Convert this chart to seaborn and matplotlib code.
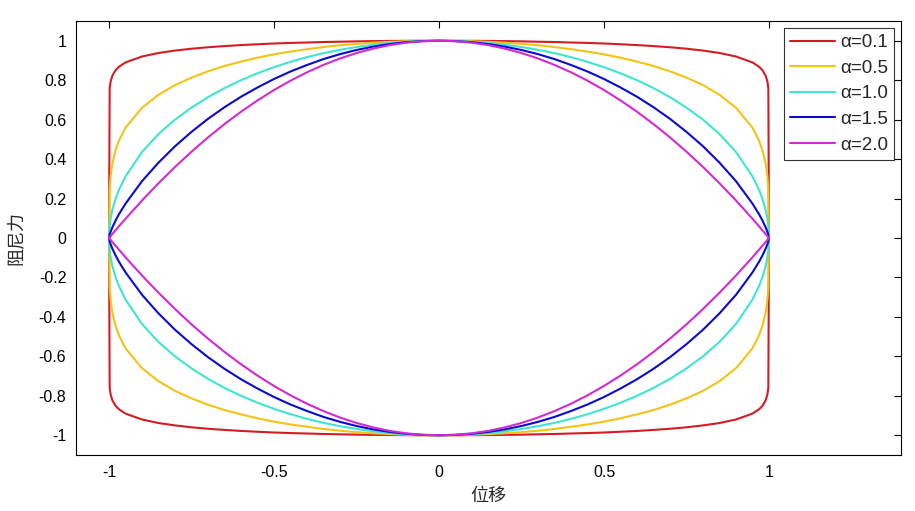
import numpy as np
import pandas as pd
import seaborn as sns
import matplotlib.pyplot as plt

# displacement (right half); the loop is mirrored
x_half = [0.0, 0.05, 0.1, 0.15, 0.2, 0.25, 0.3, 0.35, 0.4, 0.45, 0.5, 0.55, 0.6, 0.65,
          0.7, 0.75, 0.8, 0.85, 0.9, 0.95, 0.97, 0.98, 0.99, 0.995, 0.998, 1.0]

# upper-branch damping force for each alpha
f_a01 = [1.0, 0.9999, 0.9995, 0.9989, 0.998, 0.9968, 0.995, 0.9935, 0.991, 0.9888, 0.986, 0.9821, 0.978,
         0.9729, 0.967, 0.9595, 0.950, 0.9379, 0.920, 0.890, 0.868, 0.851, 0.822, 0.794, 0.759, 0.0]
f_a05 = [1.0, 0.9994, 0.9975, 0.9943, 0.990, 0.984, 0.977, 0.968, 0.957, 0.945, 0.931, 0.914, 0.894,
         0.872, 0.845, 0.813, 0.775, 0.726, 0.660, 0.559, 0.493, 0.446, 0.376, 0.316, 0.251, 0.0]
f_a10 = [1.0, 0.9987, 0.995, 0.9887, 0.980, 0.968, 0.954, 0.937, 0.917, 0.893, 0.866, 0.835, 0.800,
         0.760, 0.714, 0.661, 0.600, 0.527, 0.436, 0.312, 0.243, 0.199, 0.141, 0.100, 0.063, 0.0]
f_a15 = [1.0, 0.998, 0.9925, 0.983, 0.970, 0.953, 0.932, 0.907, 0.877, 0.844, 0.806, 0.763, 0.716,
         0.663, 0.604, 0.538, 0.465, 0.382, 0.288, 0.174, 0.120, 0.089, 0.053, 0.032, 0.016, 0.0]
f_a20 = [1.0, 0.9975, 0.99, 0.9775, 0.96, 0.9375, 0.91, 0.8775, 0.84, 0.7975, 0.75, 0.6975, 0.64,
         0.5775, 0.51, 0.4375, 0.36, 0.2775, 0.19, 0.0975, 0.059, 0.0396, 0.0199, 0.010, 0.004, 0.0]

labels = ["α=0.1", "α=0.5", "α=1.0", "α=1.5", "α=2.0"]
colors = ["#d41c24", "#f2c416", "#3ee6d2", "#0a0ad0", "#d22ad2"]


def loop(xh, fh):
    xh = np.array(xh)
    fh = np.array(fh)
    # upper branch from -1 to 1, then lower branch back from 1 to -1
    xu = np.concatenate([-xh[::-1], xh[1:]])
    fu = np.concatenate([fh[::-1], fh[1:]])
    return np.concatenate([xu, xu[::-1][1:]]), np.concatenate([fu, -fu[::-1][1:]])


frames = []
for lab, f in zip(labels, [f_a01, f_a05, f_a10, f_a15, f_a20]):
    xx, yy = loop(x_half, f)
    frames.append(pd.DataFrame({"x": xx, "y": yy, "alpha": lab}))
df = pd.concat(frames, ignore_index=True)

sns.set_style("white")
plt.rcParams["font.family"] = ["Liberation Sans", "DejaVu Sans"]
plt.rcParams["axes.unicode_minus"] = False

fig = plt.figure(figsize=(9.15, 5.11), dpi=100)
ax = fig.add_axes([76 / 915, 56 / 511, 825 / 915, 434 / 511])

sns.lineplot(data=df, x="x", y="y", hue="alpha", palette=colors, sort=False,
             estimator=None, linewidth=1.5, ax=ax)

ax.set_xlim(-1.1, 1.4)
ax.set_ylim(-1.1, 1.1)
ax.set_xticks([-1, -0.5, 0, 0.5, 1])
ax.set_xticklabels(["-1", "-0.5", "0", "0.5", "1"])
ax.set_yticks(np.round(np.arange(-1, 1.01, 0.2), 1))
ax.set_yticklabels(["-1", "-0.8", "-0.6", "-0.4", "-0.2", "0", "0.2", "0.4", "0.6", "0.8", "1"])
ax.tick_params(direction="in", length=5, width=0.8, top=True, right=True,
               labelsize=11.5, colors="black", pad=7)
for s in ax.spines.values():
    s.set_color("black")
    s.set_linewidth(0.8)

ax.set_xlabel("位移", family=["Noto Sans CJK SC"], fontsize=13, labelpad=5)
ax.set_ylabel("阻尼力", family=["Noto Sans CJK SC"], fontsize=13, labelpad=10)

leg = ax.legend(loc="upper right", fontsize=13.5, frameon=True, fancybox=False,
                edgecolor="black", handlelength=2.4, borderaxespad=0.35,
                labelspacing=0.45, handletextpad=0.25, borderpad=0.35)
leg.get_frame().set_linewidth(0.8)
leg.set_title(None)

fig.savefig("out.png", dpi=100)
